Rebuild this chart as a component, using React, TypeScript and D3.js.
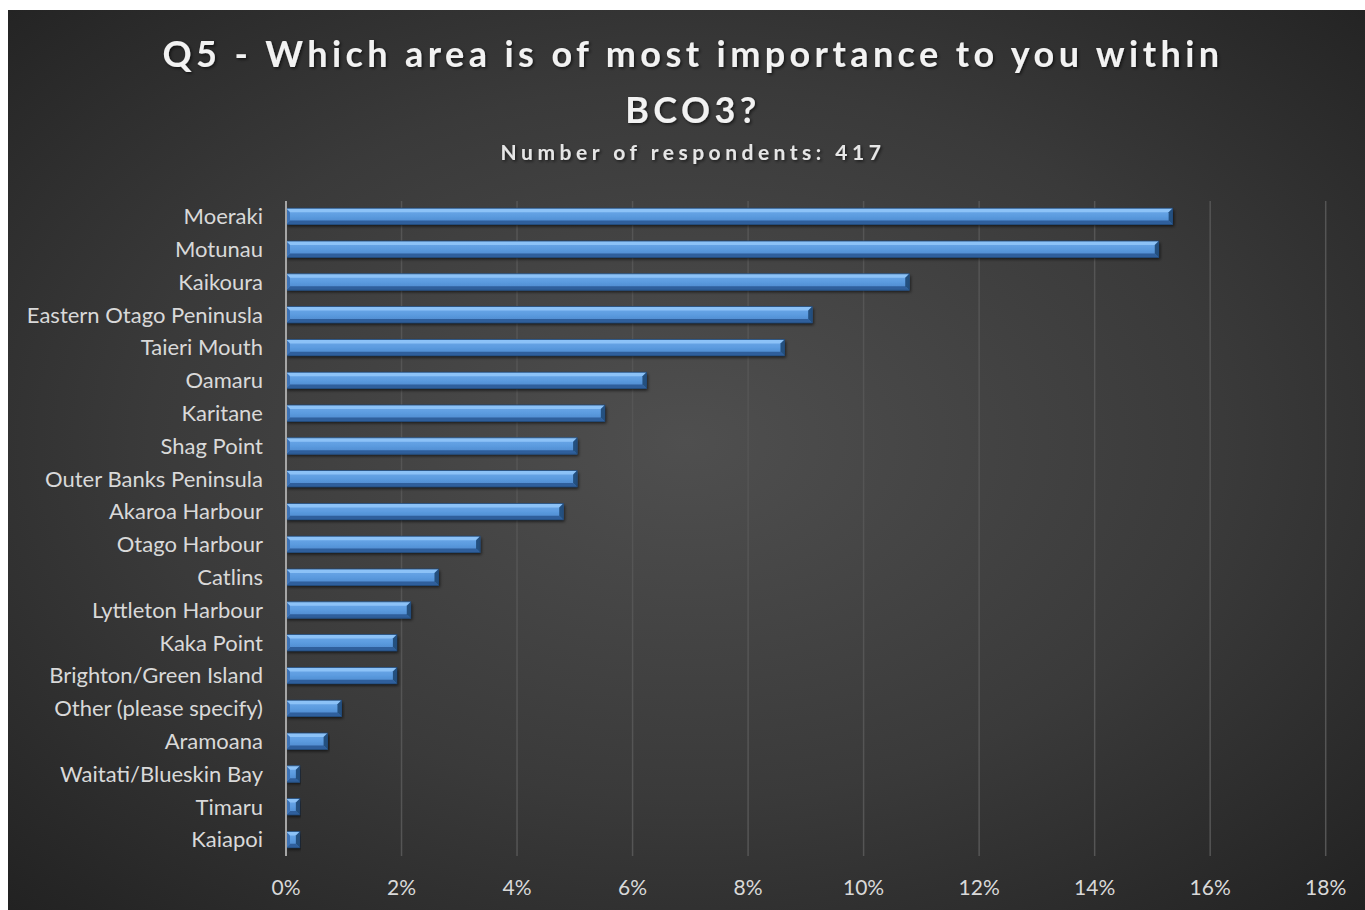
import React from "react";
import * as d3 from "d3";

const categories = [
  "Moeraki", "Motunau", "Kaikoura", "Eastern Otago Peninusla", "Taieri Mouth",
  "Oamaru", "Karitane", "Shag Point", "Outer Banks Peninsula", "Akaroa Harbour",
  "Otago Harbour", "Catlins", "Lyttleton Harbour", "Kaka Point", "Brighton/Green Island",
  "Other (please specify)", "Aramoana", "Waitati/Blueskin Bay", "Timaru", "Kaiapoi",
];
const values = [
  15.35, 15.11, 10.79, 9.11, 8.63,
  6.24, 5.52, 5.04, 5.04, 4.80,
  3.36, 2.64, 2.16, 1.92, 1.92,
  0.96, 0.72, 0.24, 0.24, 0.24,
];
const ticks = [0, 2, 4, 6, 8, 10, 12, 14, 16, 18];
const titleLines = ["Q5 - Which area is of most importance to you within", "BCO3?"];
const subtitle = "Number of respondents: 417";

const W = 1357;
const H = 900;
const FONT = "Lato, 'Open Sans', sans-serif";

export default function App() {
  const x = d3.scaleLinear().domain([0, 18]).range([278, 1317.7]);
  const y = d3.scaleBand<string>().domain(categories).range([190, 846]).paddingInner(0.5).paddingOuter(0.25);
  const bw = y.bandwidth();
  const b = 4;

  return (
    <svg width={W} height={H} style={{ position: "absolute", left: 8, top: 10 }}>
      <defs>
        <radialGradient id="bg" cx="50%" cy="48%" r="72%">
          <stop offset="0%" stopColor="#4f4f4f" />
          <stop offset="55%" stopColor="#3a3a3a" />
          <stop offset="100%" stopColor="#222222" />
        </radialGradient>
        <linearGradient id="face" x1="0" y1="0" x2="0" y2="1">
          <stop offset="0%" stopColor="#70aaea" />
          <stop offset="50%" stopColor="#5b9bdf" />
          <stop offset="100%" stopColor="#4a84c8" />
        </linearGradient>
        <filter id="shadow" x="-5%" y="-50%" width="110%" height="200%">
          <feDropShadow dx="1.5" dy="2" stdDeviation="1.5" floodColor="#000" floodOpacity="0.6" />
        </filter>
        <filter id="tshadow" x="-5%" y="-30%" width="110%" height="160%">
          <feDropShadow dx="1.5" dy="1.5" stdDeviation="1.5" floodColor="#000" floodOpacity="0.6" />
        </filter>
      </defs>
      <rect x={0} y={0} width={W} height={H} fill="url(#bg)" />

      <g filter="url(#tshadow)" fill="#f2f2f2" fontFamily={FONT} fontWeight={700} textAnchor="middle">
        <text x={685} y={57} fontSize={36} letterSpacing={4.4}>{titleLines[0]}</text>
        <text x={685} y={113} fontSize={36} letterSpacing={4.4}>{titleLines[1]}</text>
        <text x={685} y={150} fontSize={21} letterSpacing={4.5} fill="#e6e6e6">{subtitle}</text>
      </g>

      {ticks.slice(1).map((t) => (
        <line key={t} x1={x(t)} x2={x(t)} y1={191} y2={846} stroke="#555555" strokeWidth={1.5} />
      ))}

      {categories.map((c, i) => {
        const x0 = x(0);
        const x1 = x(values[i]);
        const y0 = y(c)!;
        const y1 = y0 + bw;
        const w = x1 - x0;
        const bb = Math.min(b, w / 2, bw / 2);
        return (
          <g key={c}>
            <g filter="url(#shadow)">
              <rect x={x0} y={y0} width={w} height={bw} fill="url(#face)" />
            </g>
            <polygon points={`${x0},${y0} ${x1},${y0} ${x1 - bb},${y0 + bb} ${x0 + bb},${y0 + bb}`} fill="#8cc2f7" />
            <polygon points={`${x0},${y1} ${x1},${y1} ${x1 - bb},${y1 - bb} ${x0 + bb},${y1 - bb}`} fill="#2f5f9c" />
            <polygon points={`${x1},${y0} ${x1},${y1} ${x1 - bb},${y1 - bb} ${x1 - bb},${y0 + bb}`} fill="#24507f" />
            <polygon points={`${x0},${y0} ${x0},${y1} ${x0 + bb},${y1 - bb} ${x0 + bb},${y0 + bb}`} fill="#3c72b5" />
            <rect x={x0} y={y0} width={w} height={bw} fill="none" stroke="#1f4675" strokeWidth={0.8} />
            <text x={255} y={y0 + bw / 2} dy="0.35em" textAnchor="end" fontFamily={FONT} fontSize={22} fill="#d9d9d9">{c}</text>
          </g>
        );
      })}

      <line x1={x(0)} x2={x(0)} y1={191} y2={846} stroke="#a6a6a6" strokeWidth={2} />

      {ticks.map((t) => (
        <text key={t} x={x(t)} y={885} textAnchor="middle" fontFamily={FONT} fontSize={21} fill="#d9d9d9">{`${t}%`}</text>
      ))}
    </svg>
  );
}
